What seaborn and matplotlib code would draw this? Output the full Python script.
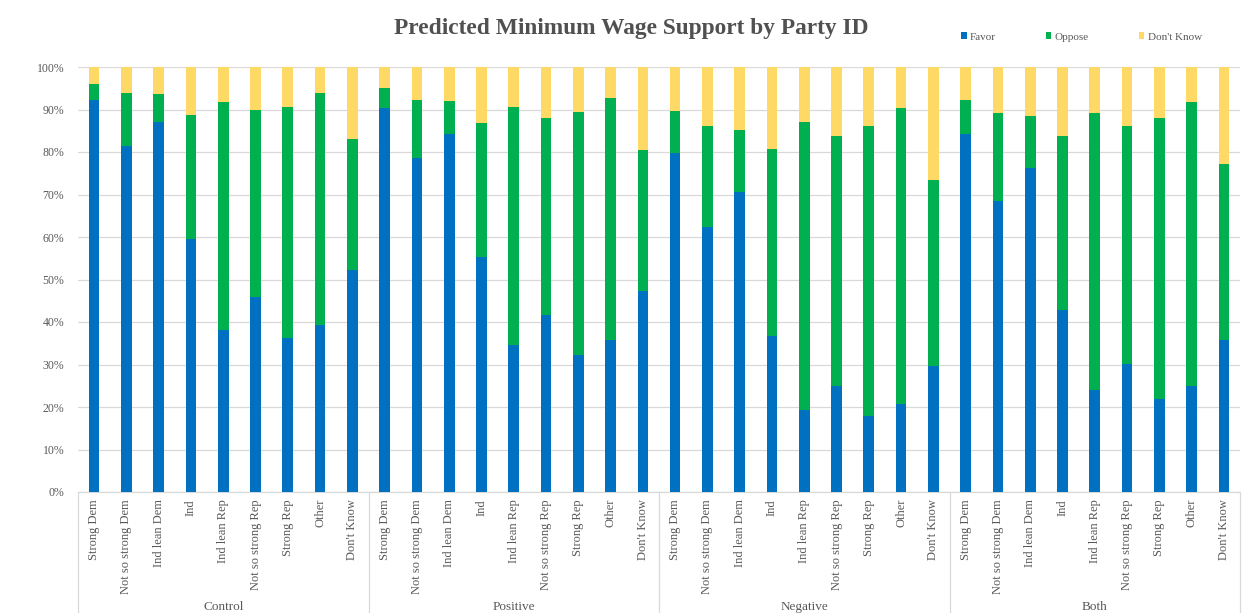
import matplotlib
matplotlib.use("Agg")
import matplotlib.pyplot as plt
from matplotlib.patches import Patch
import seaborn as sns
import pandas as pd

groups = ["Control", "Positive", "Negative", "Both"]
parties = ["Strong Dem", "Not so strong Dem", "Ind lean Dem", "Ind", "Ind lean Rep",
           "Not so strong Rep", "Strong Rep", "Other", "Don't Know"]

favor_control = [92.3, 81.5, 87.0, 59.5, 38.2, 46.0, 36.2, 39.4, 52.2]
oppose_control = [3.8, 12.3, 6.6, 29.3, 53.5, 43.8, 54.4, 54.4, 30.8]
dk_control = [3.9, 6.2, 6.4, 11.2, 8.3, 10.2, 9.4, 6.2, 17.0]

favor_positive = [90.3, 78.5, 84.3, 55.2, 34.5, 41.6, 32.2, 35.7, 47.4]
oppose_positive = [4.7, 13.7, 7.7, 31.6, 56.0, 46.4, 57.1, 57.1, 33.1]
dk_positive = [5.0, 7.8, 8.0, 13.2, 9.5, 12.0, 10.7, 7.2, 19.5]

favor_negative = [79.8, 62.4, 70.6, 36.8, 19.4, 25.0, 17.8, 20.6, 29.6]
oppose_negative = [9.9, 23.7, 14.5, 44.0, 67.7, 58.8, 68.3, 69.7, 43.8]
dk_negative = [10.3, 13.9, 14.9, 19.2, 12.9, 16.2, 13.9, 9.7, 26.6]

favor_both = [84.3, 68.4, 76.2, 42.8, 24.1, 30.2, 22.0, 24.9, 35.8]
oppose_both = [7.9, 20.8, 12.2, 41.0, 65.0, 56.0, 66.0, 66.9, 41.4]
dk_both = [7.8, 10.8, 11.6, 16.2, 10.9, 13.8, 12.0, 8.2, 22.8]

series_names = ["Favor", "Oppose", "Don't Know"]
colors = ["#0070C0", "#00B050", "#FFD966"]
yticks = [0, 10, 20, 30, 40, 50, 60, 70, 80, 90, 100]
title = "Predicted Minimum Wage Support by Party ID"

favor = favor_control + favor_positive + favor_negative + favor_both
oppose = oppose_control + oppose_positive + oppose_negative + oppose_both
dk = dk_control + dk_positive + dk_negative + dk_both

rows = []
for gi, g in enumerate(groups):
    for pi, p in enumerate(parties):
        i = gi * len(parties) + pi
        rows.append({"key": f"{g}|{p}", "group": g, "party": p,
                     "favor": favor[i], "oppose": oppose[i], "dk": dk[i]})
df = pd.DataFrame(rows)
df["c_favor"] = df["favor"]
df["c_oppose"] = df["favor"] + df["oppose"]
df["c_dk"] = df["favor"] + df["oppose"] + df["dk"]
order = list(df["key"])

sns.set_style("white")
plt.rcParams["font.family"] = ["Liberation Serif", "DejaVu Serif"]

fig = plt.figure(figsize=(12.54, 6.13), dpi=100)
ax = fig.add_axes([78 / 1254, 1 - 492 / 613, (1240 - 78) / 1254, (492 - 67) / 613])

bw = 0.33
for col, c in [("c_dk", colors[2]), ("c_oppose", colors[1]), ("c_favor", colors[0])]:
    sns.barplot(data=df, x="key", y=col, order=order, color=c, width=bw,
                saturation=1, ax=ax, zorder=3, linewidth=0)

ax.set_xlim(-0.5, len(order) - 0.5)
ax.set_ylim(0, 100)
ax.set_yticks(yticks)
ax.set_yticklabels([f"{v}%" for v in yticks], fontsize=8.5, color="#595959")
ax.yaxis.grid(True, color="#D9D9D9", linewidth=0.9, zorder=0)
ax.set_axisbelow(True)
ax.tick_params(axis="y", length=0, pad=10)
ax.tick_params(axis="x", length=0, pad=5)
ax.set_xticks(range(len(order)))
ax.set_xticklabels(list(df["party"]), rotation=90, fontsize=9, color="#595959", va="top")
ax.set_xlabel("")
ax.set_ylabel("")
for s in ["top", "right", "left"]:
    ax.spines[s].set_visible(False)
ax.spines["bottom"].set_color("#D9D9D9")
ax.spines["bottom"].set_linewidth(0.9)

# group separators and labels
n = len(parties)
for gi in range(len(groups) + 1):
    xpos = gi * n - 0.5
    ax.plot([xpos, xpos], [0, -30], transform=ax.get_xaxis_transform(),
            color="#D9D9D9", linewidth=0.9, clip_on=False)
for gi, g in enumerate(groups):
    ax.text(gi * n + (n - 1) / 2, -0.27, g, transform=ax.get_xaxis_transform(),
            ha="center", va="center", fontsize=9.5, color="#595959")

fig.text(0.503, 0.953, title, ha="center", va="center", fontsize=16.8,
         fontweight="bold", color="#505050")

handles = [Patch(facecolor=c, edgecolor="none") for c in colors]
fig.legend(handles, series_names, loc="center left", bbox_to_anchor=(951 / 1254, 1 - 37 / 613),
           ncol=3, frameon=False, fontsize=8, handlelength=0.5, handleheight=0.5,
           handletextpad=0.3, columnspacing=4.5, labelcolor="#595959")

fig.savefig("out.png", dpi=100, facecolor="white")
